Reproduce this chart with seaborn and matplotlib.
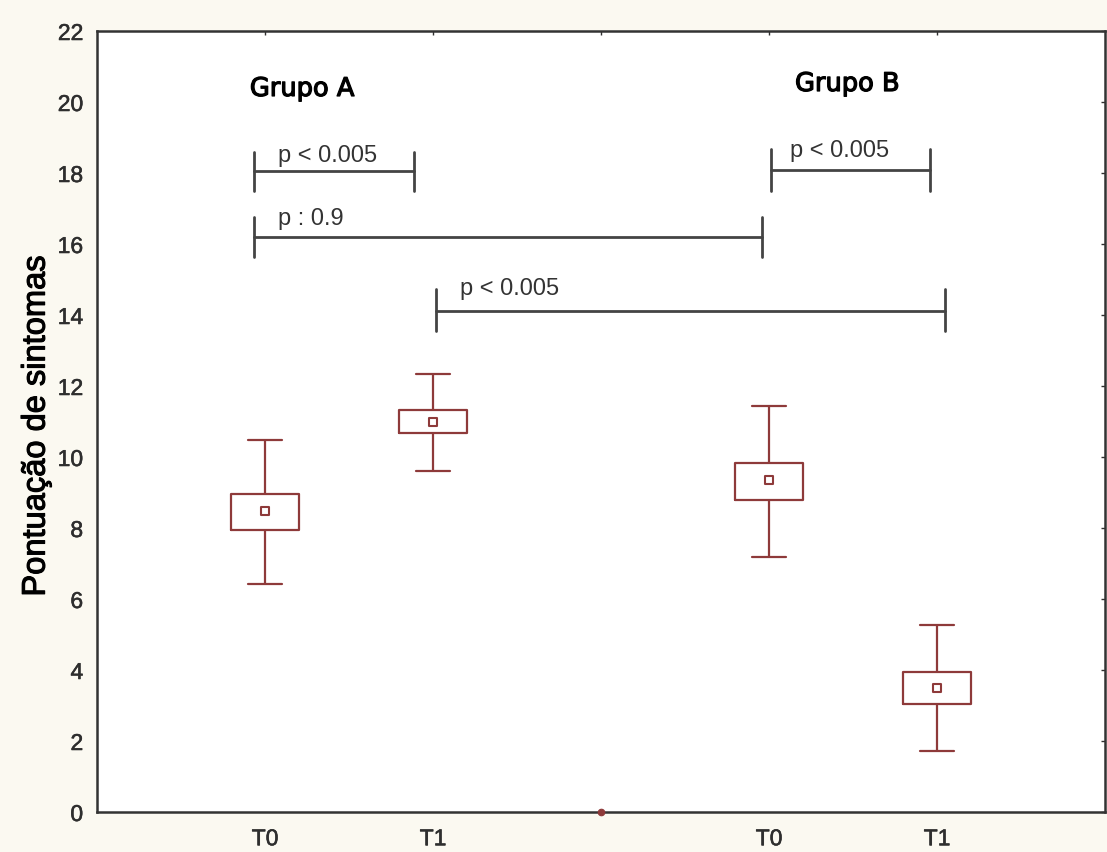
import numpy as np
import pandas as pd
import matplotlib
matplotlib.use("Agg")
import matplotlib.pyplot as plt
import matplotlib.patheffects as pe
import seaborn as sns

# ---- data ----
categories = ["A_T0", "A_T1", "gap", "B_T0", "B_T1"]
tick_labels = ["T0", "T1", "", "T0", "T1"]
box_cats = ["A_T0", "A_T1", "B_T0", "B_T1"]
means = [8.47, 10.99, 9.35, 3.49]
box_low = [7.94, 10.68, 8.79, 3.04]
box_high = [8.96, 11.32, 9.83, 3.94]
whisker_low = [6.42, 9.61, 7.18, 1.72]
whisker_high = [10.48, 12.34, 11.44, 5.27]
gap_cat = ["gap"]
gap_value = [0.0]

group_labels = ["Grupo A", "Grupo B"]
group_label_pos = [(-0.09, 20.17), (3.155, 20.31)]

# brackets: (x_start, x_end, y, tick_low, tick_high, text, text_x, text_y)
brackets_x0 = [-0.065, -0.065, 1.02, 3.01]
brackets_x1 = [0.887, 2.96, 4.05, 3.96]
brackets_y = [18.05, 16.2, 14.11, 18.08]
brackets_tlo = [17.5, 15.63, 13.55, 17.49]
brackets_thi = [18.6, 16.76, 14.73, 18.68]
brackets_txt = ["p < 0.005", "p : 0.9", "p < 0.005", "p < 0.005"]
brackets_tx = [0.077, 0.077, 1.16, 3.125]
brackets_ty = [18.34, 16.56, 14.59, 18.48]

# Five values per box: linear quartiles give box = box_low..box_high,
# whiskers (0-100 %) = whisker_low..whisker_high
rows = []
for c, wl, bl, m, bh, wh in zip(box_cats, whisker_low, box_low, means, box_high, whisker_high):
    for v in (wl, bl, m, bh, wh):
        rows.append({"cat": c, "value": v})
df = pd.DataFrame(rows)
df_means = pd.DataFrame({"cat": box_cats, "value": means})
df_gap = pd.DataFrame({"cat": gap_cat, "value": gap_value})

sns.set_theme(style="white")
plt.rcParams["font.family"] = ["Liberation Sans", "DejaVu Sans"]

BG = "#FBF9F1"
RED = "#8E3A3A"
DARK = "#2e2e2e"

fig = plt.figure(figsize=(11.07, 8.53), dpi=100, facecolor=BG)
ax = fig.add_axes([97 / 1107, 40 / 853, 1008 / 1107, 781 / 853])
ax.set_facecolor("white")

sns.boxplot(data=df, x="cat", y="value", order=categories, ax=ax,
            whis=(0, 100), width=0.4, fill=False, color=RED, linecolor=RED,
            linewidth=1.6, showfliers=False,
            medianprops=dict(linewidth=0, alpha=0))

sns.scatterplot(data=df_means, x="cat", y="value", ax=ax, marker="s", s=30,
                facecolor="white", edgecolor=RED, linewidth=1.5, zorder=5)
sns.scatterplot(data=df_gap, x="cat", y="value", ax=ax, marker="o", s=22,
                color=RED, edgecolor=RED, linewidth=0.8, zorder=5, clip_on=False)

ax.set_xlim(-1, 5)
ax.set_ylim(0, 22)
ax.set_yticks(np.arange(0, 23, 2))
ax.set_xticks(range(len(categories)))
ax.set_xticklabels(tick_labels)
ax.set_xlabel("")
ax.set_ylabel("Pontuação de sintomas", fontsize=23.5, color="black")
ax.yaxis.set_label_coords(-0.045, 0.494)
ax.yaxis.label.set_path_effects([pe.withStroke(linewidth=0.8, foreground="black")])

ax.tick_params(axis="both", direction="in", length=3, width=1, colors=DARK,
               labelsize=16.5, top=True, right=True)
ax.tick_params(axis="y", pad=10)
ax.tick_params(axis="x", pad=11)
for lab in ax.get_xticklabels() + ax.get_yticklabels():
    lab.set_color(DARK)
    lab.set_path_effects([pe.withStroke(linewidth=0.4, foreground=DARK)])

for s in ax.spines.values():
    s.set_color("#333333")
    s.set_linewidth(1.8)
    s.set_visible(True)

# brackets
for x0, x1, y, tlo, thi, txt, tx, ty in zip(brackets_x0, brackets_x1, brackets_y,
                                            brackets_tlo, brackets_thi, brackets_txt,
                                            brackets_tx, brackets_ty):
    ax.plot([x0, x1], [y, y], color="#444444", lw=2)
    ax.plot([x0, x0], [tlo, thi], color="#444444", lw=2)
    ax.plot([x1, x1], [tlo, thi], color="#444444", lw=2)
    ax.text(tx, ty, txt, fontsize=17, color="#333333", ha="left", va="baseline")

for lab, (gx, gy) in zip(group_labels, group_label_pos):
    ax.text(gx, gy, lab, fontsize=18.5, color="black", ha="left", va="baseline",
            family="DejaVu Sans",
            path_effects=[pe.withStroke(linewidth=0.9, foreground="black")])

fig.savefig("out.png", dpi=100, facecolor=BG)
